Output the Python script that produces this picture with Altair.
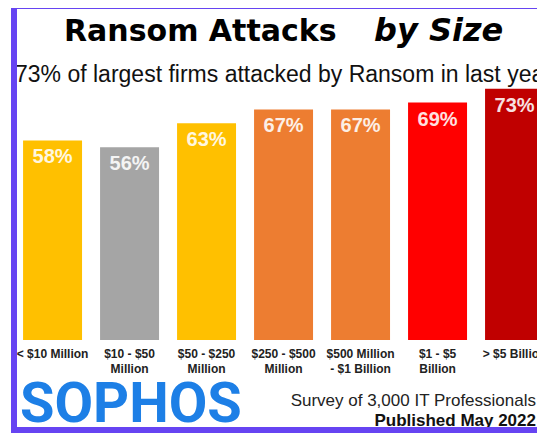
import altair as alt
import pandas as pd

categories = ["< $10 Million", "$10 - $50|Million", "$50 - $250|Million",
              "$250 - $500|Million", "$500 Million|- $1 Billion",
              "$1 - $5|Billion", "> $5 Billion"]
values = [58, 56, 63, 67, 67, 69, 73]
colors = ["#FFC000", "#A5A5A5", "#FFC000", "#ED7D31", "#ED7D31", "#FF0000", "#C00000"]
value_labels = [f"{v}%" for v in values]

title_main = "Ransom Attacks"
title_italic = "by Size"
subtitle = "73% of largest firms attacked by Ransom in last year"
brand = "SOPHOS"
note1 = "Survey of 3,000 IT Professionals"
note2 = "Published May 2022"

df = pd.DataFrame({"cat": categories, "value": values, "label": value_labels})

x = alt.X("cat:N", sort=None, title=None,
          scale=alt.Scale(paddingInner=0.234, paddingOuter=0.156, align=0.96),
          axis=alt.Axis(labelExpr="split(datum.label, '|')", labelAngle=0,
                        labelFont="Liberation Sans", labelFontWeight="bold",
                        labelFontSize=12, labelColor="#222222", labelPadding=8,
                        labelLineHeight=15, labelOverlap=False, labelLimit=300,
                        domain=False, ticks=False, grid=False))
y = alt.Y("value:Q", scale=alt.Scale(domain=[0, 98.8], nice=False), axis=None)
color = alt.Color("cat:N", sort=None, legend=None,
                  scale=alt.Scale(domain=categories, range=colors))

base = alt.Chart(df)
bars = base.mark_bar().encode(x=x, y=y, color=color)
texts = base.mark_text(baseline="middle", dy=17, font="Liberation Sans",
                       fontWeight="bold", fontSize=20, color="#ffffff",
                       opacity=0.88).encode(x=x, y=y, text="label:N")


def txt(s, xv, yv, **kw):
    return alt.Chart(pd.DataFrame({"t": [s]})).mark_text(**kw).encode(
        x=alt.value(xv), y=alt.value(yv), text="t:N")


t1 = txt(title_main, 64, 41, align="left", baseline="alphabetic",
         font="DejaVu Sans", fontWeight="bold", fontSize=30, color="#000000")
t2 = txt(title_italic, 374, 41, align="left", baseline="alphabetic",
         font="DejaVu Sans", fontWeight="bold", fontStyle="italic",
         fontSize=32, color="#000000")
t3 = txt(subtitle, 15, 82, align="left", baseline="alphabetic",
         font="Liberation Sans", fontSize=23, color="#111111")
t4 = txt(brand, 20, 422, align="left", baseline="alphabetic",
         font="Roboto", fontWeight="bold", fontSize=56,
         color="#1d7fe6")
t5 = txt(note1, 536, 406, align="right", baseline="alphabetic",
         font="Liberation Sans", fontSize=17, color="#222222")
t6 = txt(note2, 536, 426, align="right", baseline="alphabetic",
         font="Liberation Sans", fontWeight="bold", fontSize=17,
         color="#111111")

border = alt.Chart(pd.DataFrame({"a": [0]})).mark_rect(
    fill=None, stroke="#6644f2", strokeWidth=6).encode(
    x=alt.value(14), x2=alt.value(580), y=alt.value(6), y2=alt.value(430))

chart = alt.layer(bars, texts, t1, t2, t3, t4, t5, t6, border).properties(
    width=545, height=340,
    padding={"left": -8, "top": -8, "right": -8, "bottom": 94},
    autosize=alt.AutoSizeParams(type="none"),
    background="#ffffff",
).configure_view(stroke=None)

chart.save("out.html", embed_options={"renderer": "svg", "actions": False})
